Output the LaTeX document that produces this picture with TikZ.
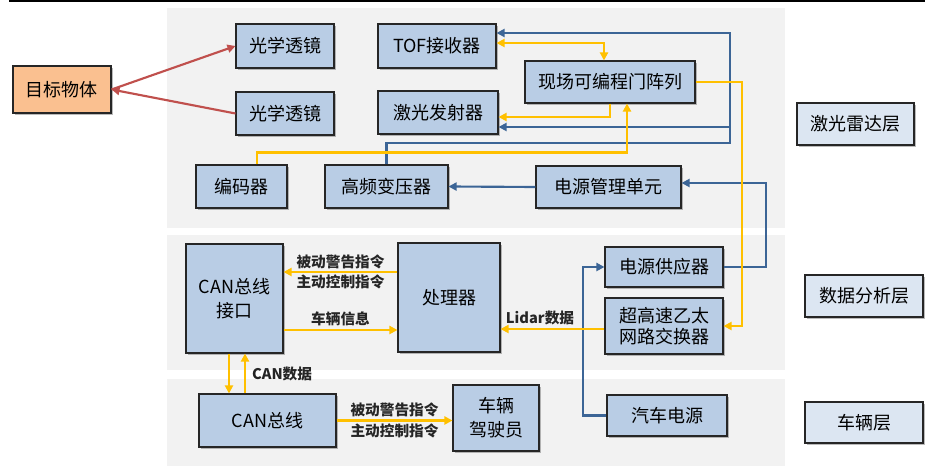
\documentclass[tikz,border=0pt]{standalone}
\usepackage{fontspec}
\setmainfont{Noto Sans CJK SC}
\usetikzlibrary{shadows,arrows.meta,calc}
\definecolor{nodefill}{HTML}{B9CDE5}
\definecolor{layerfill}{HTML}{DCE6F2}
\definecolor{objfill}{HTML}{FAC090}
\definecolor{bgfill}{HTML}{F2F2F2}
\definecolor{bluel}{HTML}{3C6596}
\definecolor{yell}{HTML}{FFC000}
\definecolor{redl}{HTML}{C0504D}
\tikzset{
  box/.style={draw=black!85, line width=0.8pt, fill=nodefill, inner sep=0pt, align=center,
    font=\fontsize{13.5}{18}\selectfont,
    drop shadow={shadow xshift=1.8pt, shadow yshift=-1.8pt, opacity=0.45, fill=black!60}},
  layerbox/.style={box, fill=layerfill},
  objbox/.style={box, fill=objfill},
  bl/.style={draw=bluel, line width=1.6pt, -{Triangle[length=6pt,width=6pt]}},
  bln/.style={draw=bluel, line width=1.6pt},
  yl/.style={draw=yell, line width=1.6pt, -{Triangle[length=6pt,width=6pt]}},
  rl/.style={draw=redl, line width=1.6pt, -{Triangle[length=6pt,width=6pt]}},
  lbl/.style={font=\fontsize{11}{13}\selectfont\bfseries, inner sep=1.5pt, text=black!85},
}
\newcommand\bx[7]{\node[#1, minimum width=#5*0.75pt, minimum height=#6*0.75pt] (#2) at (#3,#4) {#7};}
\begin{document}
\begin{tikzpicture}[x=0.75pt,y=-0.75pt]
\useasboundingbox (0,0) rectangle (925,466);
\fill[black] (9,0) rectangle (925,2.2);
% layer backgrounds
\fill[bgfill] (167,8) rectangle (785,228);
\fill[bgfill] (167,235) rectangle (785,370);
\fill[bgfill] (167,379) rectangle (785,466);
% nodes
\bx{objbox}{obj}{62}{89.5}{98}{47}{目标物体}
\bx{box}{lens1}{285}{46}{98}{44}{光学透镜}
\bx{box}{lens2}{285}{113.5}{98}{43}{光学透镜}
\bx{box}{tof}{437}{46}{118}{44}{TOF接收器}
\bx{box}{laser}{438}{112.5}{120}{43}{激光发射器}
\bx{box}{fpga}{610}{82}{170}{42}{现场可编程门阵列}
\bx{box}{enc}{241.5}{186.5}{91}{43}{编码器}
\bx{box}{hft}{386.5}{186.5}{123}{43}{高频变压器}
\bx{box}{pmu}{608.5}{187}{145}{42}{电源管理单元}
\bx{layerbox}{L1}{855.5}{124}{117}{42}{激光雷达层}
\bx{layerbox}{L2}{864}{296}{118}{42}{数据分析层}
\bx{layerbox}{L3}{864}{422.5}{118}{41}{车辆层}
\bx{box}{canif}{234.5}{298.5}{97}{109}{CAN总线\\接口}
\bx{box}{proc}{449}{297.5}{102}{109}{处理器}
\bx{box}{psu}{664}{267}{118}{40}{电源供应器}
\bx{box, font=\fontsize{13.5}{16}\selectfont}{sw}{664}{326}{118}{56}{超高速乙太\\网路交换器}
\bx{box}{car}{667}{415.5}{120}{41}{汽车电源}
\bx{box}{canbus}{267.5}{420.5}{137}{53}{CAN总线}
\bx{box}{drv}{496}{418}{86}{66}{车辆\\驾驶员}
% red connectors
\draw[rl] (obj.east) -- (lens1.west);
\draw[rl] (lens2.west) -- (obj.east);
% blue connectors
\draw[bl] (pmu.west) -- (hft.east);
\draw[bl] (hft.north) |- (730,143) -- (730,33) -- ($(tof.east)+(0,-13)$);
\draw[bl] (730,127) -- ($(laser.east)+(0,14.5)$);
\draw[bl] (psu.east) -- (766,267) -- (766,183) -- ($(pmu.east)+(0,-4)$);
\draw[bl] (car.west) -| (583,267) -- (psu.west);
% yellow connectors (laser layer)
\draw[yl] (fpga.east) -| (742,326) -- (sw.east);
\draw[yl, {Triangle[length=6pt,width=6pt]}-{Triangle[length=6pt,width=6pt]}] ($(tof.east)+(0,-3)$) -| ($(fpga.north)+(-6,0)$);
\draw[yl] (fpga.south) |- ($(laser.east)+(0,4.5)$);
\draw[yl] ($(enc.north)+(15.5,0)$) |- ($(fpga.south)+(17,49)$) -- ($(fpga.south)+(17,0)$);
% data layer
\draw[yl] ($(proc.west)+(0,-25.5)$) -- ($(canif.east)+(0,-26.5)$)
  node[midway, above, lbl] {被动警告指令} node[midway, below, lbl] {主动控制指令};
\draw[yl] ($(canif.east)+(0,31.5)$) -- ($(proc.west)+(0,32.5)$)
  node[midway, above, lbl, yshift=1pt] {车辆信息};
\draw[yl] ($(sw.west)+(0,3)$) -- ($(proc.east)+(0,31.5)$)
  node[pos=0.62, above, lbl, yshift=1pt] {Lidar数据};
\draw[yl] ($(canif.south)+(-5.5,0)$) -- ($(canbus.north)+(-38.5,0)$);
\draw[yl] ($(canbus.north)+(-22.5,0)$) -- ($(canif.south)+(10.5,0)$)
  node[midway, right, lbl, xshift=3pt] {CAN数据};
\draw[yl] (canbus.east) -- ($(drv.west)+(0,2.5)$)
  node[midway, above, lbl] {被动警告指令} node[midway, below, lbl] {主动控制指令};
\end{tikzpicture}
\end{document}
